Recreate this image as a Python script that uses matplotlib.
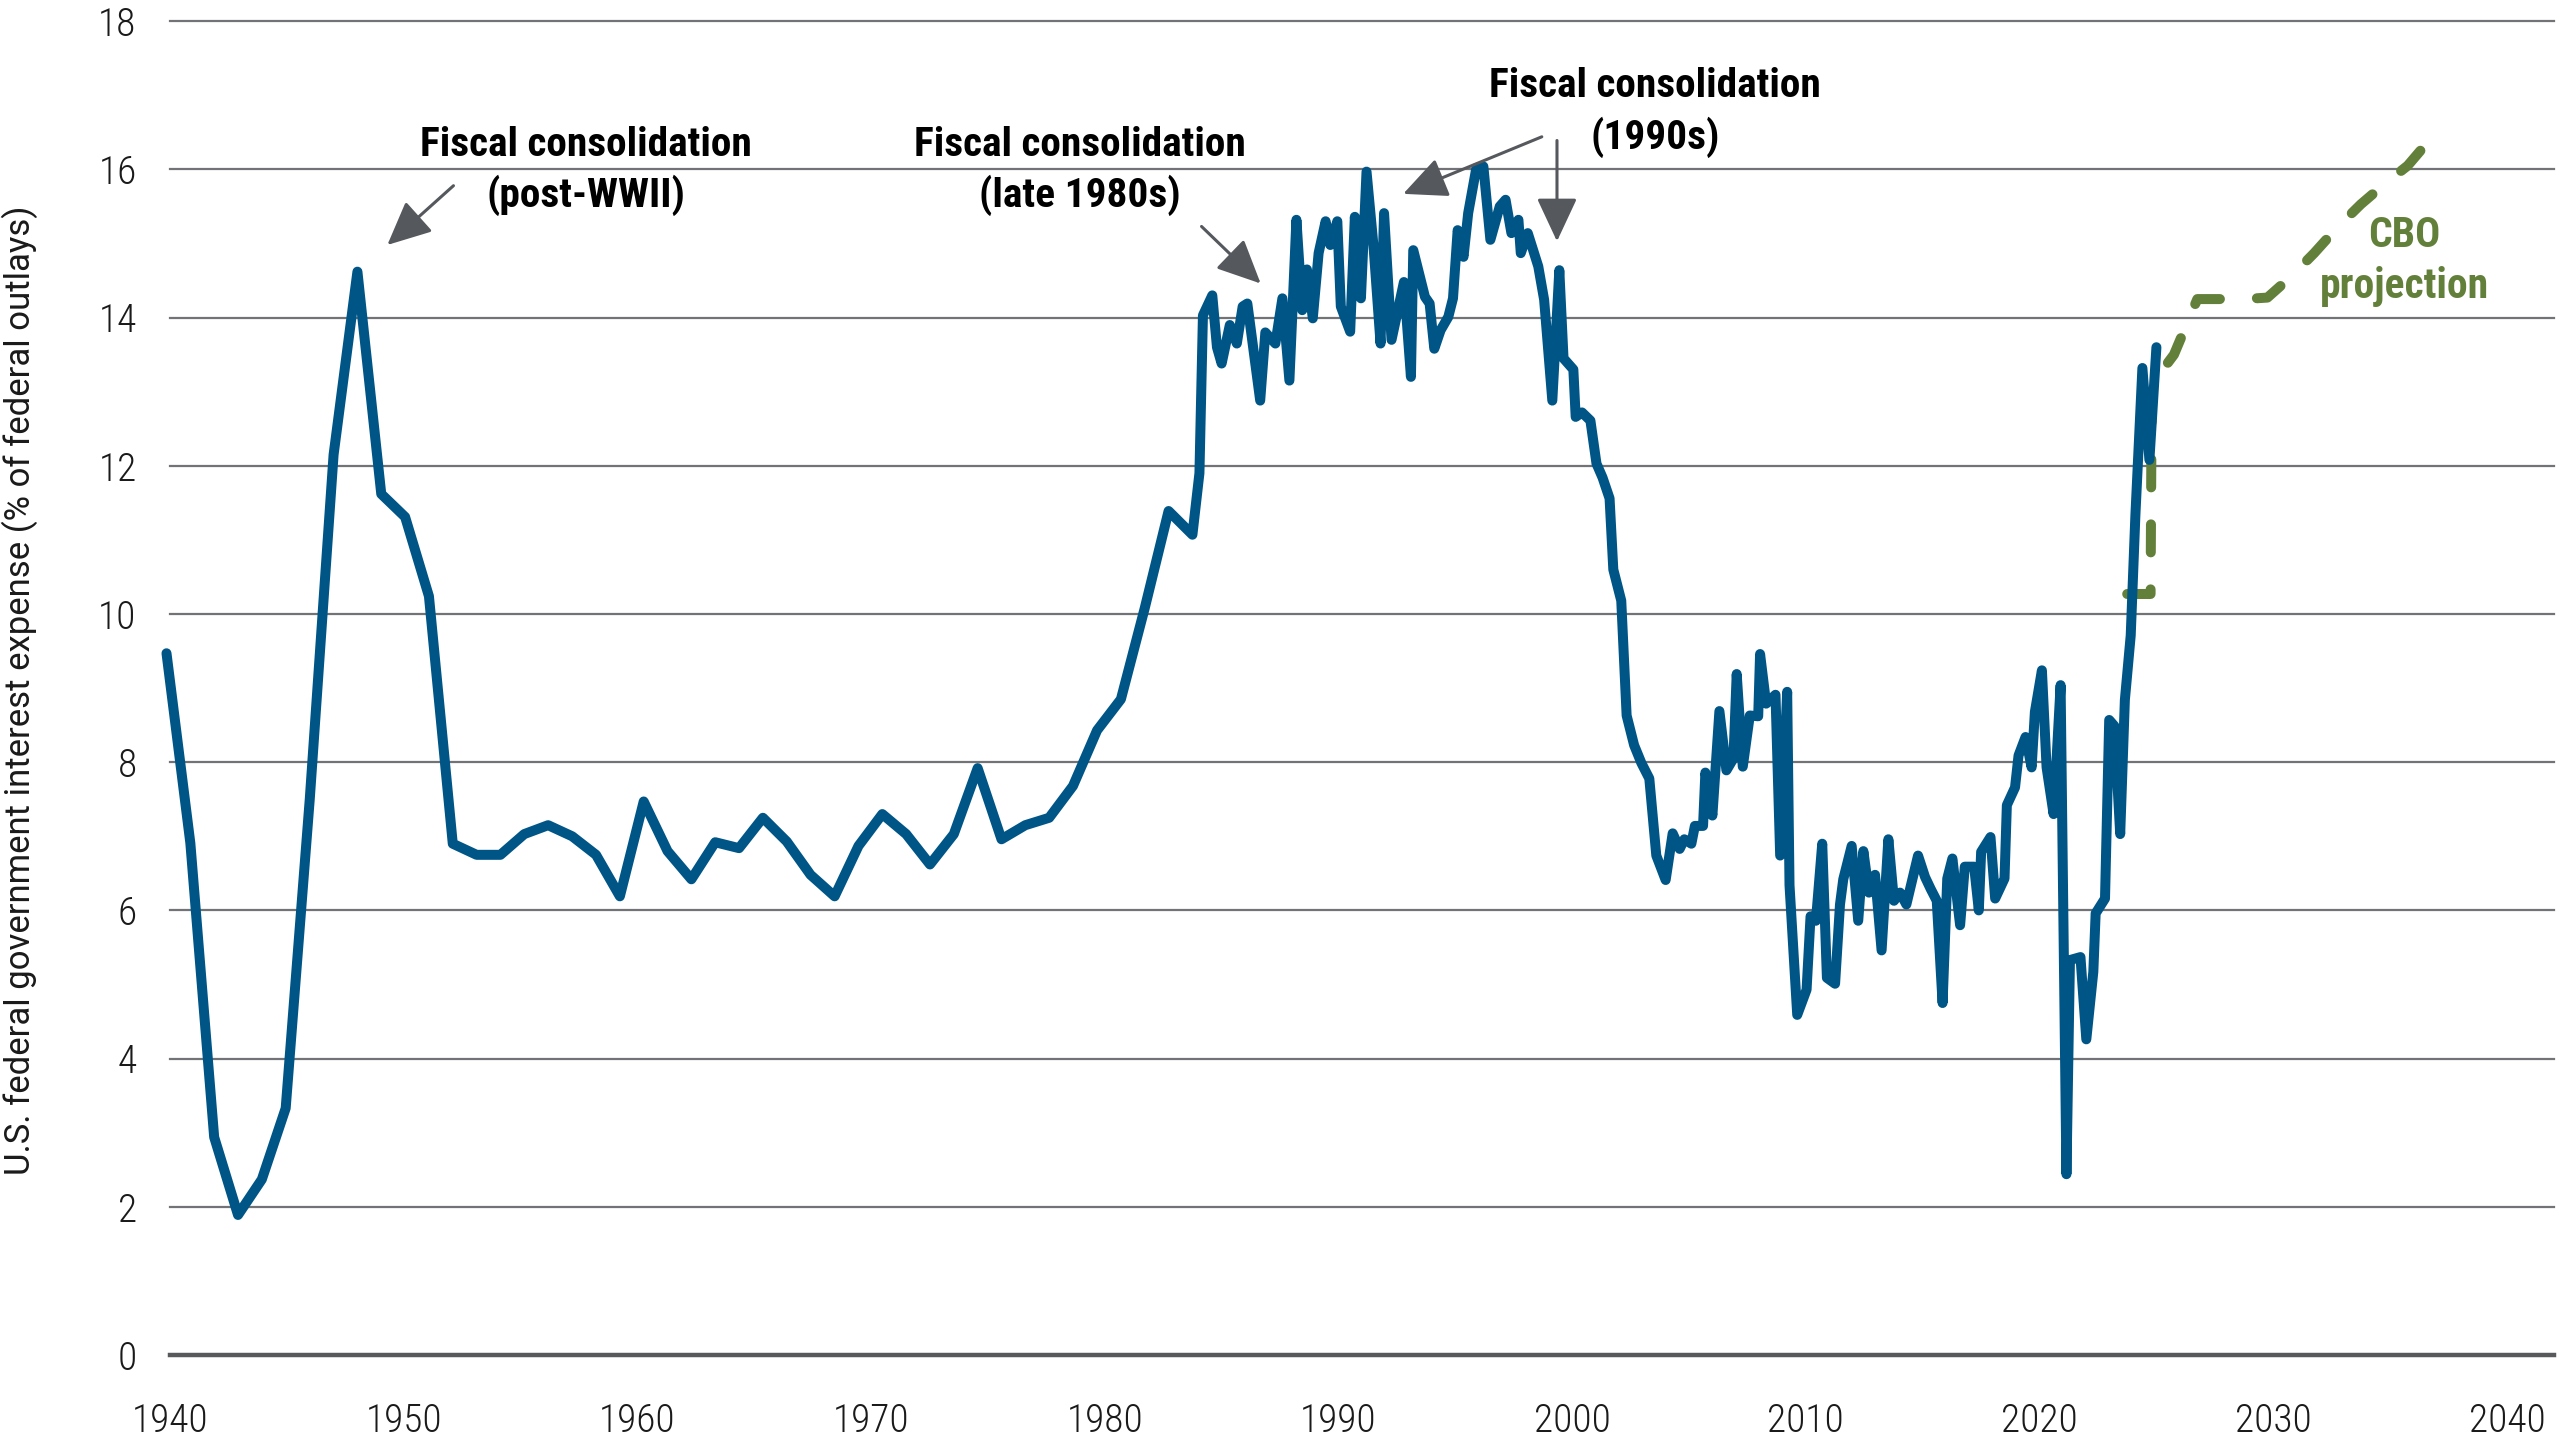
import matplotlib
matplotlib.use("Agg")
import matplotlib.pyplot as plt
from matplotlib.ticker import FixedLocator

# ---------------- data ----------------
# Annual fiscal-year data 1940-1983 (plotted dates)
annual_dates = [1939.85, 1940.87, 1941.89, 1942.91, 1943.93, 1944.95, 1945.98, 1947.00,
                1948.02, 1949.04, 1950.06, 1951.08, 1952.10, 1953.12, 1954.14, 1955.16,
                1956.18, 1957.21, 1958.23, 1959.25, 1960.27, 1961.29, 1962.31, 1963.33,
                1964.35, 1965.37, 1966.39, 1967.41, 1968.44, 1969.46, 1970.48, 1971.50,
                1972.52, 1973.54, 1974.56, 1975.58, 1976.60, 1977.62, 1978.64, 1979.67,
                1980.69, 1981.71, 1982.73, 1983.75]
annual_values = [9.47, 6.91, 2.94, 1.89, 2.37, 3.33, 7.50, 12.15,
                 14.62, 11.62, 11.31, 10.24, 6.90, 6.75, 6.75, 7.03,
                 7.15, 7.00, 6.75, 6.19, 7.47, 6.80, 6.42, 6.92,
                 6.84, 7.25, 6.93, 6.48, 6.19, 6.87, 7.30, 7.03,
                 6.62, 7.03, 7.92, 6.96, 7.15, 7.25, 7.68, 8.43,
                 8.85, 10.08, 11.39, 11.07]

# Higher-frequency data 1984-2025
recent_dates = [1984.05, 1984.20, 1984.60, 1984.80, 1985.00, 1985.35, 1985.65, 1985.90,
                1986.10, 1986.65, 1986.87, 1987.30, 1987.60, 1987.90, 1988.20, 1988.45,
                1988.65, 1988.90, 1989.15, 1989.45, 1989.65, 1989.95, 1990.10, 1990.50,
                1990.70, 1990.96, 1991.20, 1991.50, 1991.80, 1991.95, 1992.27, 1992.80,
                1993.10, 1993.20, 1993.70, 1993.90, 1994.10, 1994.37, 1994.70, 1994.90,
                1995.10, 1995.35, 1995.55, 1995.90, 1996.20, 1996.50, 1996.90, 1997.15,
                1997.40, 1997.70, 1997.80, 1998.10, 1998.55, 1998.80, 1999.15, 1999.45,
                1999.63, 2000.05, 2000.15, 2000.42, 2000.78, 2001.04, 2001.30, 2001.60,
                2001.76, 2002.10, 2002.33, 2002.65, 2002.96, 2003.30, 2003.60, 2004.00,
                2004.30, 2004.60, 2004.80, 2005.10, 2005.25, 2005.60, 2005.70, 2006.00,
                2006.30, 2006.60, 2006.90, 2007.04, 2007.30, 2007.60, 2007.96, 2008.04,
                2008.30, 2008.70, 2008.90, 2009.20, 2009.30, 2009.63, 2010.03, 2010.20,
                2010.43, 2010.70, 2010.90, 2011.25, 2011.46, 2011.60, 2011.96, 2012.24,
                2012.46, 2012.70, 2012.96, 2013.24, 2013.53, 2013.77, 2014.03, 2014.30,
                2014.80, 2015.10, 2015.34, 2015.60, 2015.85, 2016.05, 2016.27, 2016.60,
                2016.80, 2017.20, 2017.40, 2017.50, 2017.90, 2018.10, 2018.50, 2018.60,
                2018.95, 2019.10, 2019.40, 2019.66, 2019.80, 2020.10, 2020.30, 2020.60,
                2020.90, 2021.15, 2021.30, 2021.75, 2022.00, 2022.30, 2022.40, 2022.80,
                2022.98, 2023.20, 2023.45, 2023.65, 2023.90, 2024.10, 2024.40, 2024.70,
                2025.00]
recent_values = [11.90, 14.03, 14.30, 13.60, 13.38, 13.90, 13.65, 14.15,
                 14.19, 12.88, 13.80, 13.65, 14.26, 13.15, 15.32, 14.10,
                 14.65, 13.99, 14.87, 15.30, 14.98, 15.30, 14.15, 13.81,
                 15.36, 14.26, 15.97, 14.96, 13.65, 15.41, 13.70, 14.48,
                 13.20, 14.91, 14.28, 14.19, 13.58, 13.83, 14.01, 14.26,
                 15.18, 14.82, 15.41, 16.02, 16.04, 15.05, 15.50, 15.59,
                 15.14, 15.32, 14.87, 15.14, 14.69, 14.24, 12.88, 14.64,
                 13.45, 13.30, 12.66, 12.72, 12.61, 12.03, 11.84, 11.56,
                 10.60, 10.18, 8.63, 8.23, 7.99, 7.78, 6.74, 6.41,
                 7.04, 6.83, 6.96, 6.90, 7.14, 7.14, 7.86, 7.28,
                 8.69, 7.89, 8.05, 9.19, 7.94, 8.63, 8.62, 9.46,
                 8.79, 8.91, 6.74, 8.95, 6.34, 4.59, 4.93, 5.92,
                 5.86, 6.90, 5.09, 5.01, 6.08, 6.42, 6.87, 5.86,
                 6.80, 6.24, 6.48, 5.46, 6.96, 6.13, 6.24, 6.08,
                 6.74, 6.45, 6.29, 6.13, 4.75, 6.43, 6.70, 5.80,
                 6.59, 6.59, 6.00, 6.79, 6.99, 6.16, 6.43, 7.42,
                 7.66, 8.09, 8.34, 7.93, 8.68, 9.24, 7.93, 7.30,
                 9.04, 2.44, 5.33, 5.37, 4.26, 5.17, 5.96, 6.16,
                 8.57, 8.49, 7.03, 8.84, 9.71, 11.33, 13.32, 12.08,
                 13.60]

# CBO projection
cbo_dates = [2023.75, 2024.75, 2024.80, 2025.75, 2026.75, 2027.75, 2028.75, 2029.75,
             2030.75, 2031.75, 2032.75, 2033.75, 2034.75, 2035.75, 2036.75]
cbo_values = [10.27, 10.27, 13.10, 13.50, 14.25, 14.25, 14.25, 14.27,
              14.55, 14.87, 15.22, 15.53, 15.80, 16.05, 16.42]

y_ticks = [0, 2, 4, 6, 8, 10, 12, 14, 16, 18]
x_ticks = [1940, 1950, 1960, 1970, 1980, 1990, 2000, 2010, 2020, 2030, 2040]
x_tick_labels = ["1940", "1950", "1960", "1970", "1980", "1990", "2000", "2010", "2020", "2030", "2040"]

y_label = "U.S. federal government interest expense (% of federal outlays)"

# annotations: (line1, line2, x, baseline1, baseline2)
notes = [
    ("Fiscal consolidation", "(post-WWII)", 1957.8, 16.18, 15.50),
    ("Fiscal consolidation", "(late 1980s)", 1978.95, 16.18, 15.50),
    ("Fiscal consolidation", "(1990s)", 2003.55, 16.98, 16.28),
]
# arrows: (tail_x, tail_y, tip_x, tip_y)
arrows = [
    (1952.13, 15.78, 1949.30, 14.98),
    (1984.14, 15.23, 1986.67, 14.46),
    (1998.70, 16.44, 1992.77, 15.67),
    (1999.35, 16.39, 1999.35, 15.03),
]

# ---------------- style ----------------
BLUE = "#005587"
GREEN = "#62803A"
ARROW = "#55585C"
GRID = "#727376"
ZERO = "#58595B"

COND = ["Roboto Condensed", "Roboto", "DejaVu Sans"]
REG = ["Roboto", "DejaVu Sans"]

fig = plt.figure(figsize=(12.8, 7.2), dpi=200)
W, H = 2560, 1440
x0_px, x1_px = 170, 2553.7
y0_px, y1_px = 1355, 21.2
ax = fig.add_axes([x0_px / W, (H - y0_px) / H, (x1_px - x0_px) / W, (y0_px - y1_px) / H])

ax.set_xlim(1940, 2042)
ax.set_ylim(0, 18)
for s in ax.spines.values():
    s.set_visible(False)

# gridlines
for yv in y_ticks:
    if yv == 0:
        ax.axhline(yv, color=ZERO, lw=1.6, zorder=1, clip_on=False)
    else:
        ax.axhline(yv, color=GRID, lw=0.8, zorder=1, clip_on=False)

ax.yaxis.set_major_locator(FixedLocator(y_ticks))
ax.xaxis.set_major_locator(FixedLocator(x_ticks))
ax.set_xticklabels(x_tick_labels)
ax.tick_params(axis="both", length=0)
ax.tick_params(axis="y", pad=12)
ax.tick_params(axis="x", pad=17)
for lab in ax.get_yticklabels() + ax.get_xticklabels():
    lab.set_fontfamily(COND)
    lab.set_fontweight("light")
    lab.set_fontsize(14.2)
    lab.set_color("#1a1a1a")

fig.text(20 / W, (H - 690) / H, y_label, rotation=90, ha="center", va="center",
         fontsize=12.5, family=REG, color="#1a1a1a")

# series
ax.plot(cbo_dates, cbo_values, color=GREEN, lw=3.6, linestyle=(0, (2.8, 3.7)),
        dash_capstyle="round", solid_capstyle="round", zorder=2, clip_on=False)
ax.plot(annual_dates + recent_dates, annual_values + recent_values, color=BLUE, lw=3.6,
        solid_joinstyle="round", solid_capstyle="round", zorder=3, clip_on=False)

# annotations
for l1, l2, xc, b1, b2 in notes:
    ax.text(xc, b1, l1, ha="center", va="baseline", fontsize=14.9, fontweight="bold",
            family=COND, color="black", zorder=5)
    ax.text(xc, b2, l2, ha="center", va="baseline", fontsize=14.9, fontweight="bold",
            family=COND, color="black", zorder=5)

for tx, ty, hx, hy in arrows:
    ax.annotate("", xy=(hx, hy), xytext=(tx, ty),
                arrowprops=dict(arrowstyle="-|>,head_length=13.5,head_width=6.3",
                                mutation_scale=1, color=ARROW, lw=1.1,
                                shrinkA=0, shrinkB=0), zorder=4)

ax.text(2035.6, 14.95, "CBO", ha="center", va="baseline", fontsize=15, fontweight="bold",
        family=COND, color=GREEN, zorder=5)
ax.text(2035.6, 14.26, "projection", ha="center", va="baseline", fontsize=15, fontweight="bold",
        family=COND, color=GREEN, zorder=5)

fig.savefig("out.png", dpi=200)
